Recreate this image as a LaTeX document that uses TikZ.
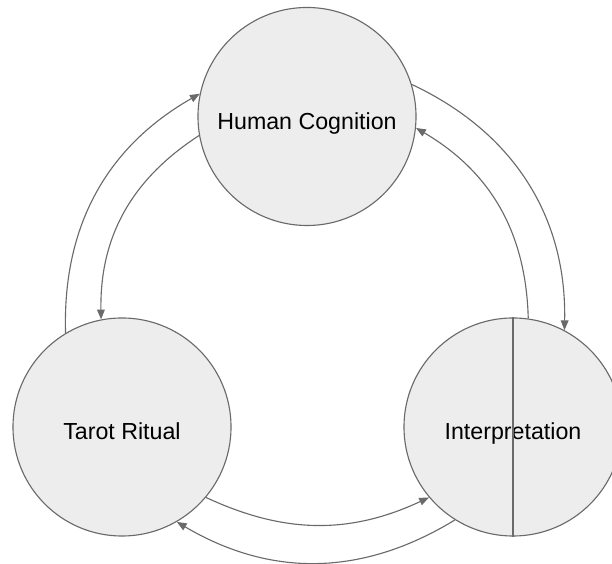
\documentclass[tikz,border=0pt]{standalone}
\usepackage{fontspec}
\setmainfont{Liberation Sans}
\usetikzlibrary{arrows.meta}

\definecolor{ringgray}{HTML}{6A6A6A}
\definecolor{discfill}{HTML}{EDEDED}

\begin{document}
\begin{tikzpicture}[
  x=0.025cm, y=0.025cm,
  every node/.style={font=\fontsize{16.5}{20}\selectfont},
  stage/.style={circle, draw=ringgray, fill=discfill, line width=0.8pt,
                minimum size=5.45cm, inner sep=0pt, text height=18.3pt, text depth=0pt},
  flow/.style={-{Triangle[length=7pt, width=5.5pt]}, draw=ringgray, line width=0.8pt},
]
\useasboundingbox (0,0) rectangle (612,564);
\clip (0,0) rectangle (612,564);

% Stages
\node[stage] (cog) at (307,447.5) {Human Cognition};
\node[stage] (rit) at (122,137) {Tarot Ritual};
\node[stage] (int) at (513,137) {Interpretation};
\draw[ringgray, line width=0.8pt] (int.north) -- (int.south);

% Cognition <-> Ritual
\draw[flow] (rit.121) to[bend left=31] (cog.168);
\draw[flow] (cog.190) to[bend right=29] (rit.101);

% Cognition <-> Interpretation
\draw[flow] (cog.17) to[bend left=33] (int.62);
\draw[flow] (int.82) to[bend right=29] (cog.-6);

% Ritual <-> Interpretation
\draw[flow] (rit.-40) to[bend right=25] (int.220);
\draw[flow] (int.238) to[bend left=31] (rit.-60);

\end{tikzpicture}
\end{document}
